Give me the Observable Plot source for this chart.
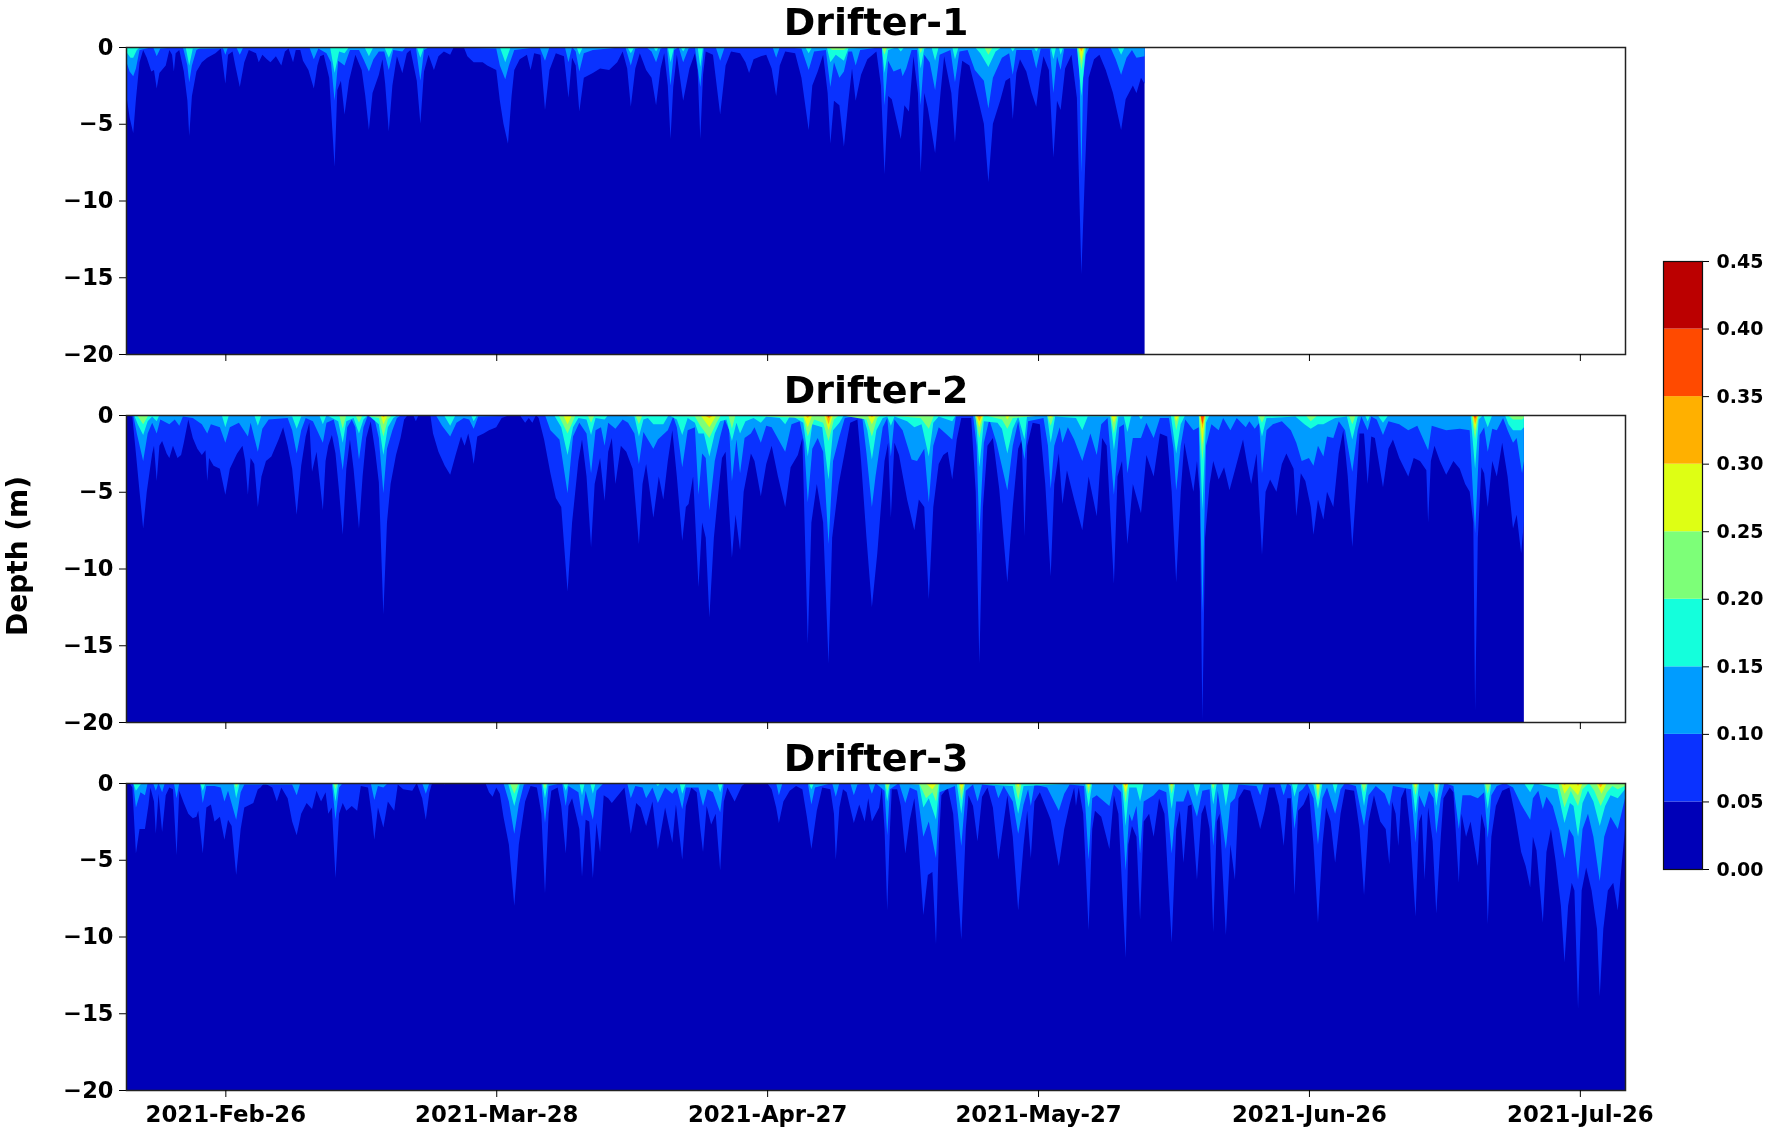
<!DOCTYPE html>
<html><head><meta charset="utf-8">
<script src="https://cdn.jsdelivr.net/npm/d3@7"></script>
<script src="https://cdn.jsdelivr.net/npm/@observablehq/plot@0.6"></script>
<style>
html,body{margin:0;padding:0;background:#fff;}
#chart{position:relative;width:1772px;height:1133px;overflow:hidden;}
#chart svg{position:absolute;left:0;background:transparent;overflow:visible;filter:blur(0.6px);}
</style></head><body><div id="chart"></div>
<script>
// Each series: [days since 2021-02-15, depth (m) of the contour]
const levelBounds = [0,0.05,0.10,0.15,0.20,0.25,0.30,0.35,0.40,0.45];
const levelColors = ["#0000b8","#0a32ff","#009cff","#14ffdc","#7dff78","#deff14","#ffb000","#ff4a00","#bb0000"];
const tickDates = ["2021-02-26","2021-03-28","2021-04-27","2021-05-27","2021-06-26","2021-07-26"];
const depthTicks = [0,-5,-10,-15,-20];
const barTicks = [0,0.05,0.10,0.15,0.20,0.25,0.30,0.35,0.40,0.45];
const titles = ["Drifter-1","Drifter-2","Drifter-3"];
const dataEnd = [112.8,154.8,166];

const p1L05=[[0,-3],[.4,-4.6],[.8,-5.6],[1.1,-3.4],[1.5,-1],[1.9,-.2],[2.3,-.7],[2.8,-1.6],[3.1,-1.5],[3.4,-2.7],[3.7,-1.7],[4.4,-1.2],[4.8,-.2],[5.1,-.5],[5.3,-1.6],[5.5,-.4],[5.9,-.2],[6.4,-1.6],[6.8,-3.5],[7,-5.8],[7.3,-3.2],[7.8,-1.6],[8.4,-1],[9,-.7],[9.9,-.4],[10.5,-.1],[11,-2.4],[11.3,-.5],[11.8,-.3],[12.1,-1.2],[12.6,-2.6],[13.1,-1],[13.6,-.2],[14.4,-.4],[14.7,-1],[15.1,-.5],[15.6,-.8],[16,-1],[16.6,-.6],[17.2,-1.2],[17.6,-.3],[18,-.1],[18.5,-1],[18.8,-.2],[19.3,-.2],[19.6,-.9],[20.2,-1.5],[20.8,-2.7],[21.2,-1.2],[21.5,-.6],[21.9,-.5],[22.5,-2],[23.1,-7.8],[23.4,-2.8],[23.8,-2.2],[24.2,-4.4],[24.7,-2.2],[25.4,-.5],[26.1,-1.5],[26.5,-3.2],[26.9,-5.4],[27.3,-3],[28,-1.8],[28.4,-.8],[28.7,-2.4],[29.1,-5.5],[29.5,-2.5],[30,-.6],[30.6,-1.7],[31.1,-.4],[31.5,-.2],[32.2,-2.2],[32.6,-5],[33,-1.6],[33.5,-.5],[34.1,-1.5],[34.6,-.6],[35.2,-.3],[35.9,-.5],[36.3,0],[37.4,0],[37.8,-.6],[38.5,-1],[39.5,-1],[40,-1.2],[41,-1.5],[41.4,-3.5],[41.8,-5],[42.3,-6.3],[42.7,-3.2],[43,-1.5],[43.6,-.8],[44.4,-.5],[44.8,-1.5],[45.2,-.4],[45.9,-.5],[46.4,-4.1],[46.9,-1.5],[47.6,-.4],[48.5,-.6],[49,-3.3],[49.4,-.7],[49.8,-1.2],[50.2,-4.2],[50.7,-2],[51.7,-1.7],[52.5,-1.4],[53.5,-1.5],[54.4,-1],[55,-.3],[55.5,-1.4],[55.9,-3.9],[56.4,-1.4],[56.9,-.4],[57.6,-1.5],[58.2,-2],[58.7,-3.8],[59.2,-1.4],[59.6,-.4],[60,-2.5],[60.3,-6],[60.6,-2.6],[61,-.5],[61.7,-3.5],[62.4,-1.4],[63,-.4],[63.3,-1.5],[63.6,-6],[63.9,-1.8],[64.2,-.3],[65,-.5],[65.8,-4.4],[66.4,-1.2],[67,-.3],[68,-.4],[68.6,-1],[69,-1.7],[69.5,-.8],[70.3,-.6],[70.9,-.5],[71.5,-1.4],[72,-3.2],[72.4,-1.2],[73,-.3],[74.1,-.4],[74.8,-2],[75.6,-5.4],[76,-2.5],[76.6,-1.6],[77.2,-.5],[77.7,-3],[78,-6.3],[78.4,-3.5],[79,-3.8],[79.5,-6.5],[80,-3.5],[80.4,-1.4],[80.8,-3.5],[81.4,-1.8],[82.1,-.8],[83.1,-.3],[83.6,-2.5],[84,-8.3],[84.4,-3.2],[84.8,-3.4],[85.8,-6],[86.2,-3.8],[86.7,-4.2],[87.2,-.6],[87.7,-3],[88,-8.2],[88.4,-3],[88.8,-4],[89.6,-6.9],[90.2,-3],[90.6,-.6],[91.4,-3],[91.8,-6.2],[92.2,-2.8],[92.6,-.9],[93.4,-1.2],[94.4,-3.5],[95,-5],[95.5,-8.8],[96,-5],[96.8,-3.5],[97.4,-2.2],[97.9,-2],[98.2,-4.7],[98.6,-1.7],[99,-.8],[99.7,-1.6],[100.3,-3],[100.8,-3.9],[101.2,-2],[101.6,-.6],[102.2,-1.5],[102.7,-7.2],[103.1,-3.5],[103.5,-4.1],[104,-1.4],[104.7,-.5],[105.3,-3.3],[105.8,-14.8],[106.2,-8],[106.6,-2],[107.2,-.8],[107.8,-.5],[108.5,-1.5],[109.3,-3],[110.2,-5.4],[110.7,-3.4],[111.5,-2.5],[111.9,-3],[112.4,-2],[112.8,-2.4]];
const p1L10=[[0,-.9],[.4,-1.6],[.8,-1.9],[1.1,-1.4],[1.5,-.2],[3,0],[3.4,-.6],[3.8,-.1],[6.3,0],[6.8,-1.2],[7,-2.3],[7.3,-1.2],[7.8,-.2],[8.4,0],[10.7,0],[11,-.5],[11.3,0],[12.2,0],[12.6,-.5],[13,0],[20.3,0],[20.8,-.8],[21.3,-.1],[22.2,-.4],[22.7,-1],[23.1,-3.5],[23.5,-.9],[24.2,-1.2],[24.8,-.2],[25.8,-.2],[26.3,-.8],[26.9,-1.6],[27.4,-.8],[28,-.3],[28.6,-.3],[29.1,-1.5],[29.6,-.2],[30.6,-.3],[31,0],[32.1,0],[32.6,-2.2],[33,-.2],[33.6,0],[41,-.1],[41.4,-1.2],[42,-2.1],[42.4,-1.2],[43,-.2],[45.8,0],[46.4,-.9],[46.9,0],[48.6,0],[49,-1],[49.4,0],[49.8,-.3],[50.2,-1.6],[50.7,-.4],[51.7,-.2],[55.3,0],[55.9,-1.2],[56.4,-.1],[57.6,0],[58.2,-.3],[58.7,-1],[59.2,-.1],[59.9,0],[60.3,-2.5],[60.7,-.2],[61.2,0],[61.7,-1],[62.3,-.1],[63,0],[63.6,-2.6],[64,0],[65.3,0],[65.8,-.9],[66.3,0],[71.6,0],[72,-.7],[72.4,0],[74.8,-.1],[75.6,-1.5],[76.2,-.3],[77.5,-.2],[78,-2.6],[78.4,-1],[79,-2],[79.5,-1.6],[80,-.3],[80.4,-.3],[80.8,-1.2],[81.3,-.2],[83.7,0],[84,-3.8],[84.4,-.9],[85,-1.6],[85.8,-1.4],[86,-1.9],[86.4,-1.4],[87,-.2],[87.6,-.2],[88,-3.8],[88.4,-.5],[89,-1],[89.6,-2.8],[90.1,-.5],[91.3,-.2],[91.8,-2.3],[92.3,-.3],[93.2,-.2],[94,-1.5],[95,-2.2],[95.5,-4],[96,-2],[97,-.7],[97.8,-.4],[98.2,-1.8],[98.6,-.2],[100.3,-.2],[100.8,-1.4],[101.3,-.1],[102.3,-.1],[102.7,-3],[103.1,-.6],[103.5,-1.5],[103.9,-.1],[105.4,-.1],[105.6,-1.8],[105.8,-8.2],[106,-2],[106.3,-.5],[106.7,0],[109,0],[109.6,-.8],[110.2,-1.8],[110.8,-.7],[111.4,-.2],[111.9,-.7],[112.8,-.6]];
const p1L15=[[0,-.3],[.5,-.7],[.8,-.7],[1.2,-.2],[1.6,0],[6.6,0],[7,-1.2],[7.4,-.1],[22.6,0],[23.1,-1.7],[23.6,-.3],[24.2,-.4],[24.7,0],[26.4,0],[26.9,-.6],[27.4,0],[28.6,0],[29.1,-.7],[29.6,0],[32.2,0],[32.6,-.7],[33,0],[41.4,0],[42,-1],[42.6,0],[49.9,0],[50.2,-.5],[50.6,0],[55.5,0],[55.9,-.4],[56.3,0],[58.4,0],[58.7,-.3],[59,0],[60,0],[60.3,-1],[60.7,0],[61.4,0],[61.7,-.3],[62,0],[63.3,0],[63.6,-1.3],[63.9,0],[75.2,0],[75.6,-.4],[76,0],[77.6,0],[78,-1],[78.6,-.5],[79.5,-.9],[80,-.1],[83.7,0],[84,-1.7],[84.4,-.2],[85.4,0],[85.8,-.3],[86.2,0],[87.7,0],[88,-1.4],[88.4,-.1],[89.2,0],[89.6,-.9],[90,0],[91.5,0],[91.8,-.8],[92.2,0],[94,0],[94.6,-.4],[95.5,-1.3],[96.3,-.3],[97,0],[97.9,0],[98.2,-.3],[98.5,0],[100.5,0],[100.8,-.3],[101.1,0],[102.4,0],[102.7,-.8],[103,0],[103.3,0],[103.5,-.5],[103.8,0],[105.3,0],[105.8,-3.2],[106.3,0],[109.8,0],[110.2,-.5],[110.6,0],[112.8,0]];
const p1L20=[[77.7,0],[78.2,-.2],[79.5,-.2],[80,0],[83.7,0],[84,-.5],[84.3,0],[87.8,0],[88,-.4],[88.3,0],[95,0],[95.5,-.5],[96,0],[105.4,0],[105.8,-1.5],[106.2,0]];
const p1L25=[[83.9,0],[84,-.15],[84.2,0],[105.5,0],[105.8,-.9],[106.1,0]];
const p1L30=[[105.6,0],[105.8,-.3],[106,0]];

const p2L05=[[0,0],[.7,-.1],[1.1,-2.5],[1.5,-5],[1.9,-7.4],[2.3,-5],[2.9,-2.5],[3.1,-2],[3.4,-4.3],[3.7,-2],[4,-1.7],[4.5,-2.5],[4.8,-2.8],[5.2,-2],[5.7,-2.8],[6.1,-2.6],[6.4,-1.8],[6.9,-.3],[7.4,-1.5],[7.9,-2.2],[8.4,-2.6],[8.8,-2.3],[9,-4.3],[9.2,-2.8],[9.7,-3.3],[10.4,-3.5],[11,-5.2],[11.5,-3.5],[12.3,-2.5],[12.9,-2],[13.2,-3],[13.5,-5.2],[13.8,-2.8],[14.2,-3.2],[14.6,-6],[15,-4],[15.5,-3],[16.1,-2.7],[16.9,-1.6],[17.4,-.8],[17.9,-2],[18.4,-3.5],[18.9,-6.5],[19.4,-3.3],[19.9,-1.4],[20.3,-.5],[20.6,-3.7],[21.1,-2.4],[21.8,-6.2],[22.1,-3],[22.4,-2],[22.8,-1.3],[23.2,-2.5],[23.6,-5],[24,-7.8],[24.4,-3.5],[24.8,-1.6],[25.2,-3.5],[25.8,-7.4],[26.2,-4],[26.6,-1.5],[27.1,-.4],[27.6,-2.4],[28,-4.4],[28.5,-13],[28.9,-7],[29.3,-4.5],[29.9,-2.6],[30.4,-1.5],[30.8,-.3],[31.2,0],[31.8,0],[32.1,-.4],[32.4,0],[33.7,0],[34,-1.2],[34.6,-2.4],[35.3,-3.3],[35.9,-3.9],[36.5,-2.6],[37.1,-1.4],[37.5,-2],[37.9,-1.2],[38.2,-2],[38.5,-3.2],[38.9,-1.4],[39.6,-1.2],[40.2,-1],[41,-.8],[41.6,-.2],[42.5,0],[43.6,0],[44.2,-.5],[44.6,-.2],[45,-.5],[45.4,0],[45.7,-.2],[46.3,-1.6],[47,-3.8],[47.6,-5.4],[48.2,-6],[48.9,-11.5],[49.4,-7],[50.1,-3],[50.5,-1.6],[51,-4],[51.5,-8.6],[51.9,-4.5],[52.5,-2.8],[53,-5.6],[53.4,-2.4],[53.8,-1.5],[54.2,-4.5],[54.8,-2],[55.4,-2.4],[56.1,-3.5],[56.8,-8.4],[57.2,-4.5],[57.6,-3.2],[58.4,-6.7],[59,-4],[59.5,-5.5],[60,-3],[60.5,-1],[61,-4],[61.6,-8.2],[62,-6],[62.3,-5.8],[62.8,-4],[63.4,-11.2],[63.8,-7],[64.2,-8],[64.6,-13.2],[65.1,-8],[65.6,-5],[66,-2.8],[66.4,-2.4],[67.1,-9.3],[67.5,-6.5],[68,-8.8],[68.4,-5],[69.2,-2.5],[69.6,-3],[70.3,-5.3],[70.9,-3.2],[71.5,-2],[72.2,-4],[73,-6],[73.6,-3.4],[74.4,-2.6],[74.9,-1.5],[75.5,-14.9],[75.9,-7],[76.5,-4.5],[77.2,-7],[77.8,-16.2],[78.2,-8],[78.9,-4.6],[79.6,-2.4],[80.2,-.5],[81,-.3],[81.4,-3],[82,-8],[82.6,-12.5],[83.2,-9],[84,-3],[84.4,-1.8],[84.7,-6.7],[85.1,-1.8],[85.6,-2.6],[86.5,-5.5],[87.3,-7.5],[87.8,-5.5],[88.4,-6],[88.9,-12],[89.4,-6],[90,-3.2],[90.5,-2.6],[91,-2.4],[91.5,-4.2],[92,-1.6],[92.5,-.2],[93.6,-.2],[94.1,-5],[94.5,-16.2],[94.9,-6],[95.4,-2],[96,-1.5],[96.7,-4.8],[97.6,-10.9],[98.2,-6],[98.8,-2.2],[99.2,-1.6],[99.5,-7.9],[99.8,-2],[100.4,-.5],[101.2,-.6],[101.8,-4.5],[102.4,-10.5],[102.8,-4.5],[103.3,-2.5],[103.7,-5.8],[104.2,-3.6],[105,-5.5],[105.9,-7.5],[106.6,-4],[107.5,-6.6],[108.1,-1.5],[108.6,-2],[109.4,-11],[109.8,-4],[110.3,-3],[110.9,-8.4],[111.5,-4.5],[112.4,-6.4],[113,-2.6],[113.8,-4],[114.5,-1.2],[115.3,-1.4],[115.8,-5],[116.3,-10.9],[116.8,-5],[117.2,-1.8],[118.2,-5],[118.6,-3],[118.9,-5],[119.2,-19.9],[119.5,-8],[120,-4.5],[120.4,-3],[121,-4.2],[121.6,-3.4],[122.2,-4.9],[122.8,-3.6],[123.7,-1.6],[124.1,-3],[124.6,-4.5],[125.2,-2.5],[125.8,-9.1],[126.2,-5],[126.7,-4.2],[127.4,-5],[128,-3.2],[128.5,-2.5],[129.3,-3.5],[129.6,-6.6],[130.1,-3.8],[130.6,-4.3],[131.2,-6],[131.5,-7.8],[132,-5.5],[132.6,-6.8],[133,-5],[133.7,-6],[134.3,-2.5],[134.8,-1],[135.3,-4],[135.8,-8.6],[136.3,-4.2],[136.6,-1.2],[137.1,-1.2],[137.5,-4.5],[137.9,-1.4],[138.3,-1.5],[139.2,-4.7],[139.8,-2.2],[140.3,-1.6],[141,-2.8],[142,-4],[142.6,-2.8],[143.3,-3],[144,-3.6],[144.2,-7],[144.5,-3],[144.9,-2],[145.5,-3],[146.2,-3.9],[147,-3],[147.7,-3.5],[148.3,-4.5],[148.8,-5],[149.2,-7],[149.4,-19.3],[149.7,-8],[150.1,-3.4],[150.4,-3.8],[150.8,-6],[151.3,-3],[151.8,-4],[152.4,-1.8],[153,-4],[153.6,-7.4],[154,-6.5],[154.5,-9],[154.8,-7]];
const p2L10=[[.8,0],[1.2,-1.2],[1.9,-3],[2.4,-1.2],[2.9,-.5],[3.4,-1.2],[3.8,-.3],[4.8,-.6],[5.4,-.3],[5.9,-.7],[6.3,-.1],[7.4,-.2],[8.4,-.6],[9,-1.2],[9.4,-.6],[10.4,-.8],[11,-1.8],[11.5,-.8],[12.5,-.5],[13.5,-1.4],[13.8,-.5],[14.6,-2.4],[15.1,-.9],[15.8,-.3],[17.9,-.2],[18.4,-1],[18.9,-2.5],[19.4,-1],[19.9,-.2],[20.7,-.4],[21.8,-1.8],[22.2,-.5],[23,-.3],[23.5,-1.5],[24,-3.6],[24.5,-.8],[25,-.3],[25.4,-.8],[25.8,-2.9],[26.3,-.8],[26.8,0],[27.5,-.2],[28,-1.5],[28.5,-5.1],[28.9,-2.2],[29.5,-1],[30,-.2],[30.5,0],[34.3,0],[35,-.7],[35.9,-1.4],[36.6,-.5],[37.4,-.2],[38,-.3],[38.5,-.9],[39,-.1],[46.4,0],[47,-1],[48,-1.6],[48.9,-5.1],[49.5,-1.4],[50.2,-.5],[51,-1.2],[51.5,-3.8],[52,-1],[52.6,-.8],[53,-2],[53.4,-.5],[54.2,-.9],[55,-.3],[55.6,-.5],[56.3,-1.2],[56.8,-3.2],[57.3,-1.1],[58.4,-2.2],[58.9,-1.6],[60,-1],[60.6,-.1],[61,-.8],[61.6,-3.4],[62.2,-1],[63,-.8],[63.4,-5.2],[63.8,-2.5],[64.2,-2.8],[64.6,-6.2],[65.2,-3],[65.8,-1.4],[66.3,-.3],[66.8,-1],[67.1,-4.3],[67.6,-1.6],[68,-3.8],[68.5,-1.5],[69.2,-1.2],[69.6,-.8],[70.3,-1.8],[70.9,-.7],[71.5,-.8],[73,-2.4],[73.7,-.6],[74.6,-.4],[75.1,-1.8],[75.5,-5.7],[76,-2.2],[76.6,-1.5],[77.2,-2.4],[77.8,-8.4],[78.3,-3],[79,-1.4],[79.6,-.2],[81.5,0],[82,-2.5],[82.6,-6],[83,-4],[83.8,-.8],[84.3,-.2],[84.7,-2.7],[85.1,-.3],[86,-1],[87,-2.9],[87.6,-3],[88.4,-2.2],[88.9,-5.7],[89.4,-2],[90,-.8],[91.5,-1.6],[91.9,-.1],[93.8,0],[94.2,-2],[94.5,-7.8],[95,-1.8],[95.6,-.3],[96.4,-1.8],[97.6,-4.9],[98.2,-2],[98.8,-.4],[99.5,-2.9],[99.9,-.4],[101.6,-.2],[102.1,-2],[102.4,-4.8],[102.8,-2],[103.4,-.8],[103.7,-1.8],[104.3,-.8],[105,-1.6],[105.9,-3],[106.8,-1.2],[107.5,-2.6],[108,-.6],[108.7,-.2],[109.4,-5.2],[110,-.8],[110.5,-.6],[110.9,-3.8],[111.5,-1.5],[112.4,-1.5],[113,-.5],[113.8,-1.5],[114.5,-.2],[115.5,-.2],[116,-2.2],[116.3,-4.9],[116.8,-2],[117.3,-.3],[118.2,-1],[118.8,-.8],[119.2,-12.9],[119.6,-2],[120.2,-.6],[121,-1],[121.5,-.2],[122.3,-1],[123,-.2],[124,-.8],[124.4,-.4],[125,-.9],[125.5,-.5],[125.8,-3.8],[126.3,-1],[127,-.6],[128,-.4],[129,-1],[129.6,-1.8],[130.2,-3],[131,-2.8],[131.5,-3.3],[132,-2],[132.6,-2.7],[133,-1.4],[133.7,-1.5],[134.3,-.4],[135,-1],[135.8,-3.7],[136.4,-1],[136.8,-.1],[137.5,-1],[137.9,-.1],[138.5,-.3],[139.2,-1.3],[139.8,-.4],[141,-.6],[142,-1],[143,-.7],[144.2,-2.3],[144.6,-.7],[146.2,-1],[147.7,-.9],[148.8,-1],[149.4,-7.7],[149.9,-1.3],[150.4,-.8],[150.8,-2.4],[151.3,-.9],[151.8,-1],[152.5,-.2],[153,-1],[153.6,-1.8],[154,-1.5],[154.6,-3.8],[154.8,-3]];
const p2L15=[[.9,0],[1.3,-.6],[1.9,-1.3],[2.4,-.4],[2.9,-.1],[3.4,-.4],[3.7,0],[10.6,0],[11,-.8],[11.4,0],[14.2,0],[14.6,-.7],[15,0],[18.4,-.1],[18.9,-.9],[19.4,-.1],[21.4,0],[21.8,-.6],[22.2,0],[23.5,-.4],[24,-1.8],[24.4,-.4],[25.2,-.2],[25.8,-1.2],[26.3,-.3],[26.8,0],[28,-.6],[28.5,-2.6],[29,-.8],[29.6,-.2],[30.1,0],[35.2,0],[35.9,-.7],[36.5,0],[38.2,0],[38.5,-.4],[38.9,0],[47.4,0],[48.2,-.8],[48.9,-2.6],[49.5,-.8],[50.1,-.2],[51,-.3],[51.5,-1.3],[52,-.2],[53,-.3],[53.4,0],[56.3,-.1],[56.8,-1.4],[57.3,-.3],[57.8,-.2],[58.4,-.6],[59.5,-.6],[60.1,0],[61,-.3],[61.6,-1.3],[62.2,-.2],[63,-.5],[63.4,-1.2],[64,-1.2],[64.6,-2.7],[65.2,-1.2],[65.8,-.4],[66.5,-.3],[67.1,-1.7],[67.6,-.5],[68,-1.2],[68.6,-.4],[69.5,-.2],[70.3,-.5],[70.9,-.1],[72.4,-.2],[73,-.6],[73.6,0],[75,-.5],[75.5,-2.7],[76,-.6],[77.1,-.8],[77.8,-4.2],[78.3,-1],[79,-.5],[79.5,0],[81.6,0],[82.1,-1],[82.6,-2.9],[83.1,-1],[83.8,-.2],[84.3,-.1],[84.7,-.7],[85.1,-.1],[86.5,-.4],[87.3,-.8],[88.1,-.6],[88.9,-2.7],[89.4,-.5],[90,-.1],[91.5,-.4],[91.9,0],[94.1,0],[94.5,-3.4],[95,-.4],[96.5,-.5],[97,-.9],[97.6,-2.5],[98.2,-.9],[98.8,-.1],[99.5,-1.6],[99.8,0],[102,0],[102.4,-1.8],[102.9,-.1],[105.2,-.2],[105.9,-1],[106.5,-.1],[109,-.1],[109.4,-2.3],[109.9,-.1],[110.5,-.1],[110.9,-1.1],[111.3,-.1],[112.1,0],[112.4,-.3],[112.7,0],[115.7,0],[116.3,-2.5],[116.8,-.6],[117.3,0],[118.8,0],[119.2,-6.2],[119.6,-.5],[120,0],[125.3,0],[125.8,-1.4],[126.3,-.2],[129.5,-.1],[130.5,-.6],[131.2,-.9],[132,-.6],[132.6,-.6],[133.2,-.4],[133.9,-.2],[135.2,-.1],[135.8,-1.6],[136.4,-.1],[137.2,0],[137.5,-.4],[137.8,0],[138.6,0],[139.2,-.5],[139.8,0],[148.9,0],[149.4,-3.5],[149.8,-.3],[150.3,0],[150.8,-.8],[151.3,0],[152.7,0],[153.1,-.6],[153.6,-1],[154.5,-1],[154.8,-.8]];
const p2L20=[[1.2,0],[1.9,-.6],[2.5,0],[23.6,0],[24,-.9],[24.4,0],[25.4,0],[25.8,-.5],[26.2,0],[28,-.2],[28.5,-1.4],[29,-.3],[29.5,0],[47.9,0],[48.9,-1.2],[49.8,0],[51.1,0],[51.5,-.5],[51.9,0],[56.4,0],[56.8,-.6],[57.2,0],[63,-.1],[63.6,-.7],[64.6,-1.5],[65.4,-.5],[65.9,0],[66.7,0],[67.1,-.9],[67.5,0],[75,-.2],[75.5,-1.4],[76.2,-.3],[77.2,-.5],[77.8,-1.7],[78.4,-.3],[79,0],[82,-.3],[82.6,-1.4],[83.2,-.2],[83.6,0],[88,-.2],[88.9,-.9],[89.5,0],[94,0],[94.5,-1.5],[95,0],[97,-.3],[97.6,-.9],[98.2,-.2],[102,0],[102.4,-.7],[102.8,0],[109,0],[109.4,-1.2],[109.8,0],[116,0],[116.3,-1],[116.7,0],[118.8,0],[119.2,-3],[119.6,0],[125.4,0],[125.8,-.5],[126.2,0],[130.6,0],[131.2,-.4],[132,0],[135.4,0],[135.8,-.6],[136.2,0],[149,0],[149.4,-1.6],[149.8,0],[153,0],[153.6,-.3],[154.6,-.3],[154.8,-.2]];
const p2L25=[[28.2,0],[28.5,-.6],[29,0],[48.4,0],[48.9,-.6],[49.4,0],[63.6,0],[64.6,-.8],[65.4,0],[75,0],[75.5,-.8],[76,0],[77.3,0],[77.8,-1],[78.3,0],[82.1,0],[82.6,-.6],[83.1,0],[94.1,0],[94.5,-.8],[94.9,0],[97.3,0],[97.6,-.3],[97.9,0],[102.1,0],[102.4,-.2],[102.7,0],[109.1,0],[109.4,-.5],[109.7,0],[116.1,0],[116.3,-.4],[116.6,0],[118.9,0],[119.2,-1.9],[119.5,0],[149.1,0],[149.4,-1],[149.7,0]];
const p2L30=[[28.3,0],[28.5,-.15],[28.8,0],[64,0],[64.6,-.2],[65.1,0],[75.2,0],[75.5,-.2],[75.8,0],[77.5,0],[77.8,-.6],[78.1,0],[82.3,0],[82.6,-.15],[82.9,0],[94.2,0],[94.5,-.4],[94.8,0],[119,0],[119.2,-.9],[119.5,0],[149.2,0],[149.4,-.6],[149.7,0]];
const p2L35=[[77.6,0],[77.8,-.2],[78,0],[94.3,0],[94.5,-.1],[94.7,0],[119,0],[119.2,-.6],[119.4,0],[149.2,0],[149.4,-.25],[149.6,0]];

const p3L05=[[.4,0],[.7,-.3],[1.1,-4.6],[1.5,-3],[2.1,-3],[2.5,-1.4],[2.7,-.3],[3.1,-1.2],[3.3,-3.3],[3.6,-.7],[4,-3.2],[4.4,-.8],[4.8,-.3],[5.2,-.4],[5.6,-4.7],[5.9,-.5],[6.4,-1.3],[6.9,-2],[7.4,-2.3],[7.8,-2.2],[8,-1.8],[8.5,-4.6],[8.9,-1.6],[9.4,-1.4],[9.8,-2.5],[10.4,-2.2],[10.9,-3.7],[11.3,-2.4],[11.7,-2.8],[12.2,-6],[12.7,-3],[13.1,-1.6],[14.1,-1.3],[14.6,-.4],[14.9,-.3],[15.3,0],[16.2,-.3],[16.7,-1.2],[17.2,-.3],[17.9,-1],[18.4,-2.5],[18.9,-3.4],[19.4,-2],[20,-1.3],[20.6,-1.7],[21.1,-.5],[21.6,-1.2],[22.1,-.6],[22.4,-2],[22.8,-1.6],[23.2,-6.2],[23.6,-2],[24,-1.3],[24.4,-1.8],[25,-1.5],[25.6,-1.8],[26,-.2],[26.8,-.3],[27.2,-2],[27.5,-3.7],[27.9,-1.6],[28.5,-2.9],[29,-1.2],[29.7,-1.8],[30.1,-.1],[30.7,-.4],[31.7,-.5],[32.2,0],[32.8,-1],[33.2,-2.4],[33.6,-.6],[33.9,0],[35.2,0],[35.3,-.1],[35.4,0],[39.8,0],[40.2,-.6],[40.6,-.9],[41,-.3],[41.4,-.7],[41.8,-2.2],[42.4,-4],[43,-8],[43.5,-4],[44.2,-1.2],[44.8,-.2],[45.5,-.3],[46,-2],[46.4,-7.2],[46.8,-2],[47.1,-.5],[47.8,-.3],[48.2,-1.5],[48.7,-4.6],[49,-1.5],[49.4,-1],[50.2,-3],[50.5,-6.1],[50.9,-2.4],[51.3,-2.5],[51.7,-6.2],[52.1,-2.6],[52.5,-4.5],[52.9,-.8],[53.4,-1],[53.8,-1.3],[54.5,-.8],[55.2,-.3],[55.6,-2],[55.9,-3.3],[56.5,-1.3],[57,-1.6],[57.6,-2.8],[58.3,-1.2],[58.9,-4.3],[59.7,-1.6],[60.5,-3.9],[60.9,-1.4],[61.6,-5],[62,-1.5],[62.6,-.3],[63.2,-.6],[63.6,-3],[63.9,-4.5],[64.3,-1.5],[64.8,-2.7],[65.3,-2],[65.8,-5.7],[66.2,-1.2],[66.6,-.3],[67.4,-1.2],[68.2,-.2],[68.6,0],[71,0],[71.5,-.4],[72,-1.6],[72.3,-2.6],[72.8,-1.2],[73.5,-.5],[74.2,-.2],[74.9,-.4],[75.4,-2.2],[75.9,-4.3],[76.5,-1.8],[77.1,-.3],[78,-.4],[78.4,-2],[78.6,-5],[79,-1.6],[79.4,-.4],[79.8,-.6],[80.6,-2.6],[81.2,-1.4],[81.8,-2.5],[82.2,-1],[82.6,-2.5],[83.4,-1.6],[83.7,-.3],[84,-3],[84.3,-8.3],[84.6,-3],[84.8,-.4],[85.4,-.4],[85.8,-1.5],[86.3,-4.6],[86.8,-2.4],[87.3,-1],[87.7,-3.5],[88.3,-8.6],[88.8,-6],[89.3,-5.8],[89.7,-10.5],[90,-4],[90.3,-.8],[91,-.3],[91.6,-2],[92.5,-10.2],[93,-3],[93.3,-.8],[93.8,-1.5],[94.3,-3.8],[94.8,-.9],[95.4,-.3],[96,-1.6],[96.6,-5],[97.2,-2.5],[97.6,-.8],[98.2,-3.5],[98.8,-8.3],[99.4,-4],[99.8,-1.8],[100.2,-4.9],[100.6,-1.2],[101.2,-.6],[102.4,-2.4],[103.3,-5.4],[103.9,-3],[104.5,-1.4],[105,-.3],[105.2,-1.5],[105.5,-.3],[106,-2],[106.6,-9.6],[107,-3],[107.3,-1.8],[108,-2.2],[108.9,-4.3],[109.4,-.8],[109.9,-2],[110.7,-11.4],[111,-4],[111.4,-2.8],[111.9,-3.5],[112.3,-8.9],[112.7,-2.5],[113.3,-2],[113.8,-3.5],[114.4,-1],[115,-2],[115.8,-10.4],[116.3,-3],[116.7,-1.8],[117.1,-5.2],[117.6,-1.5],[118,-1.4],[118.6,-6.3],[119.1,-2],[119.5,-1.4],[120,-3],[120.4,-9.7],[120.8,-2.5],[121.1,-2],[121.8,-9.9],[122.3,-4],[122.8,-6.3],[123.2,-1],[123.8,-.4],[124.5,-.5],[125.2,-2],[125.6,-3],[126.1,-1.8],[126.6,-.3],[127.2,-.3],[127.7,-1.5],[128.2,-4.1],[128.6,-1],[129,-1],[129.4,-7.3],[129.8,-1.8],[130.4,-1.4],[131,-.6],[131.5,-4],[132,-9.1],[132.5,-4],[132.9,-1.6],[133.4,-2.5],[133.9,-5.2],[134.5,-2],[135,-.4],[136,-.5],[136.6,-3],[137.1,-7.3],[137.6,-2.5],[138.2,-.8],[138.9,-2.5],[139.5,-3],[139.9,-5.3],[140.2,-1.2],[140.6,-2],[140.9,-4.1],[141.2,-1],[141.7,-.3],[142.2,-3],[142.8,-8.7],[143.2,-2.5],[143.5,-2],[143.8,-6.3],[144.2,-1.6],[144.7,-3.8],[145.1,-8.5],[145.6,-3.5],[145.9,-1],[146.6,-.3],[147,-.6],[147.6,-6.5],[147.9,-2],[148.4,-3.5],[148.9,-2.5],[149.7,-5.4],[150.1,-2],[150.5,-3],[150.8,-9.2],[151.2,-3.5],[151.7,-1.5],[152.4,-.5],[153.2,-.3],[153.8,-2],[154.5,-4.5],[155,-5.4],[155.5,-6.8],[155.8,-3.5],[156.2,-4.4],[156.9,-9.1],[157.3,-4.5],[157.8,-3],[158.3,-5],[158.9,-8],[159.3,-11.7],[159.7,-8],[160.1,-6.5],[160.4,-7],[160.8,-14.7],[161.2,-7],[161.7,-5.5],[162.3,-7],[162.9,-9.5],[163.2,-13.9],[163.6,-9.5],[164.1,-7],[164.7,-6.5],[165.2,-8.3],[165.6,-5.5],[166,-3]];
const p3L10=[[.8,0],[1.1,-1.6],[1.6,-.6],[2.1,-.8],[2.4,0],[3,0],[3.3,-.5],[3.6,0],[4,-.6],[4.3,0],[5.3,0],[5.6,-1],[5.9,0],[8.2,0],[8.5,-1.3],[8.9,-.2],[9.8,-.2],[10.5,-.3],[10.9,-1.2],[11.3,-.5],[12.2,-2.4],[12.7,-.6],[13.1,-.1],[18.4,-.1],[18.9,-.8],[19.3,0],[22.8,0],[23.2,-2.4],[23.6,-.3],[24,0],[27.1,0],[27.5,-1.1],[27.9,-.2],[28.5,-.3],[29,0],[32.8,0],[33.2,-.7],[33.6,0],[41.8,0],[42.4,-1.2],[43,-3.3],[43.5,-1.4],[44.1,0],[46,0],[46.4,-2.6],[46.8,-.2],[48.3,0],[48.7,-1.5],[49,-.2],[50.1,-.6],[50.5,-2.2],[50.9,-.5],[51.7,-2.4],[52.1,-.5],[52.9,0],[55.5,0],[55.9,-1],[56.4,-.2],[57.2,-.3],[57.6,-1],[58.3,-.3],[58.9,-1.3],[59.7,-.3],[60.5,-.7],[61,-.3],[61.6,-1.7],[62,-.3],[63.4,-.3],[63.9,-1.5],[64.4,-.4],[65,-.6],[65.8,-1.9],[66.2,0],[72,0],[72.3,-.8],[72.7,0],[75.5,0],[75.9,-1.4],[76.3,-.3],[78.2,0],[78.6,-.9],[79,0],[80.2,0],[80.6,-.8],[81,-.1],[82.2,0],[82.6,-.7],[83,0],[84,-.5],[84.3,-3.4],[84.6,-.4],[85.6,0],[86.3,-1.3],[86.8,-.3],[87.6,-.5],[88.3,-3.5],[88.9,-2.5],[89.7,-4.9],[90.1,-.6],[91.8,-.2],[92.5,-4.1],[93,-.5],[93.8,-.1],[94.3,-1.2],[94.8,-.1],[96.2,-.2],[96.6,-1],[97.2,-.2],[98.2,-1.2],[98.8,-3.3],[99.4,-1.4],[99.9,-.4],[100.2,-1.5],[100.6,-.1],[102,-.3],[103.3,-1.8],[103.9,-.7],[104.5,-.1],[106.1,-.2],[106.6,-5],[107,-1],[107.5,-.8],[108.9,-1.5],[109.4,-.1],[110.2,-.6],[110.7,-5.7],[111.1,-2],[111.4,-2.5],[111.9,-1.5],[112.3,-4.6],[112.7,-1.2],[113.8,-.8],[114.4,-.4],[115.2,-.6],[115.8,-4.6],[116.3,-1.2],[117.1,-1.2],[117.6,-.4],[118.6,-2.2],[119.2,-.5],[120,-.4],[120.4,-4.1],[120.9,-.5],[121.8,-4.3],[122.3,-1.3],[122.8,-1],[123.2,-.1],[125.2,-.2],[125.6,-.8],[126,0],[127.8,0],[128.2,-.8],[128.6,0],[129,-.2],[129.4,-3],[129.9,-.6],[130.3,-.4],[130.8,0],[131.5,-1],[132,-4],[132.5,-1],[133,-.3],[133.9,-2],[134.5,-.4],[135,0],[136.2,-.2],[137.1,-2.8],[137.6,-.8],[138.4,-.2],[139.4,-.7],[139.9,-1.5],[140.3,-.2],[142.3,-.4],[142.8,-3.9],[143.2,-.8],[143.8,-1.6],[144.3,-.5],[144.8,-1],[145.1,-3.3],[145.6,-1],[146,0],[147,-.2],[147.6,-3],[148,-.8],[148.9,-.8],[149.7,-1],[150.4,-.6],[150.8,-3.6],[151.2,-.8],[151.8,-.2],[152.7,0],[153.6,-.3],[154.5,-1.4],[155.5,-2.4],[155.8,-1],[156.4,-.5],[156.9,-1.7],[157.3,-.9],[158,-1.5],[158.7,-3],[159.3,-4.9],[159.8,-3],[160.3,-3.5],[160.8,-6.3],[161.3,-3],[161.9,-2],[162.5,-3.5],[163.2,-6.4],[163.7,-3.5],[164.4,-2.2],[165.2,-3],[166,-1]];
const p3L15=[[.8,0],[1.1,-.5],[1.6,-.1],[2,0],[8.2,0],[8.5,-.5],[8.8,0],[11.9,0],[12.2,-1],[12.6,0],[22.9,0],[23.2,-1.2],[23.5,0],[42.3,0],[43,-1.5],[43.6,-.1],[46.1,0],[46.4,-1],[46.7,0],[48.4,0],[48.7,-.5],[49,0],[50.2,0],[50.5,-.8],[50.8,0],[51.4,0],[51.7,-.7],[52,0],[58.6,0],[58.9,-.2],[59.2,0],[61.3,0],[61.6,-.7],[62,0],[65.5,0],[65.8,-.6],[66.1,0],[75.6,0],[75.9,-.4],[76.2,0],[84,0],[84.3,-1.2],[84.6,0],[87.8,0],[88.3,-1.6],[88.9,-1],[89.7,-2.4],[90.1,0],[92,0],[92.5,-2],[92.9,0],[98.2,-.2],[98.8,-2],[99.4,-.2],[106.2,0],[106.6,-1.6],[107,0],[110.3,0],[110.7,-2.8],[111.1,-.3],[111.9,-.3],[112.3,-1.2],[112.7,0],[115.4,0],[115.8,-1.7],[116.2,0],[118.2,0],[118.6,-.9],[119,0],[120.1,0],[120.4,-1.4],[120.8,0],[121.4,0],[121.8,-1.5],[122.2,0],[129.1,0],[129.4,-.9],[129.8,0],[131.5,-.1],[132,-1.7],[132.5,0],[133.6,0],[133.9,-.7],[134.2,0],[136.7,0],[137.1,-1.5],[137.5,0],[142.4,0],[142.8,-2],[143.2,0],[144.8,0],[145.1,-1.5],[145.5,0],[150.4,0],[150.8,-1.7],[151.2,0],[154.8,0],[155.5,-.6],[156,0],[158.5,-.4],[159.3,-2.6],[159.9,-1.3],[160.3,-1.5],[160.8,-3.5],[161.3,-1.3],[161.9,-.5],[162.5,-1.2],[163.2,-2.8],[163.8,-1.5],[164.4,-.8],[165.2,-1],[166,-.4]];
const p3L20=[[12,0],[12.2,-.3],[12.5,0],[23,0],[23.2,-.4],[23.4,0],[42.5,0],[43,-.7],[43.5,0],[46.2,0],[46.4,-.4],[46.6,0],[84.1,0],[84.3,-.5],[84.6,0],[87.9,-.1],[88.6,-1],[89.3,-.6],[89.7,-1.2],[90,0],[92.2,0],[92.5,-1.1],[92.9,0],[98.4,0],[98.8,-1.1],[99.2,0],[106.3,0],[106.6,-.7],[106.9,0],[110.4,0],[110.7,-1.3],[111,0],[115.5,0],[115.8,-.7],[116.1,0],[120.2,0],[120.4,-.4],[120.6,0],[131.7,0],[132,-1.1],[132.3,0],[136.8,0],[137.1,-.6],[137.4,0],[142.5,0],[142.8,-.8],[143.1,0],[144.9,0],[145.1,-.7],[145.4,0],[150.5,0],[150.8,-.7],[151.1,0],[158.6,0],[159.3,-1.6],[160,-.5],[160.8,-1.5],[161.3,-.4],[162,0],[162.6,-.5],[163.3,-1.5],[164,-.6],[164.6,-.2],[165.2,-.4],[166,-.2]];
const p3L25=[[88.5,0],[89.3,-.4],[89.8,0],[92.3,0],[92.5,-.5],[92.8,0],[98.6,0],[98.8,-.3],[99,0],[106.4,0],[106.6,-.3],[106.8,0],[110.4,0],[110.7,-.6],[111,0],[115.6,0],[115.8,-.2],[116,0],[131.8,0],[132,-.5],[132.2,0],[142.6,0],[142.8,-.3],[143,0],[144.9,0],[145.1,-.2],[145.3,0],[158.9,0],[159.3,-.7],[159.9,-.2],[160.8,-.8],[161.3,0],[162.8,0],[163.4,-.7],[164,0]];
const p3L30=[[92.3,0],[92.5,-.1],[92.7,0],[110.5,0],[110.7,-.2],[110.9,0],[159.1,0],[159.3,-.15],[159.6,0],[160.6,0],[160.8,-.2],[161,0],[163,0],[163.3,-.3],[163.6,0]];

const panelLevels = [
  [p1L05,p1L10,p1L15,p1L20,p1L25,p1L30],
  [p2L05,p2L10,p2L15,p2L20,p2L25,p2L30,p2L35],
  [p3L05,p3L10,p3L15,p3L20,p3L25,p3L30]
];

const t0 = Date.UTC(2021,1,15);
const toDate = d => new Date(t0 + d*864e5);
const font = "'DejaVu Sans', sans-serif";
const layout = [
  {top:0,   height:380, marginTop:47, marginBottom:26},
  {top:380, height:368, marginTop:35, marginBottom:26},
  {top:748, height:385, marginTop:35, marginBottom:43}
];
const chart = document.getElementById("chart");

panelLevels.forEach((levels,i)=>{
  const L = layout[i], last = i===2;
  const marks = [
    Plot.areaY([0,dataEnd[i]],{x:toDate,y1:-20,y2:0,fill:levelColors[0]}),
    ...levels.map((s,k)=>Plot.areaY(s,{x:d=>toDate(d[0]),y1:0,y2:d=>d[1],fill:levelColors[k+1],curve:"linear"})),
    Plot.axisY({ticks:depthTicks,tickSize:7,tickPadding:6,fontSize:22.5,fontWeight:"bold",label:null}),
    Plot.frame({stroke:"#222",strokeWidth:1.5}),
    Plot.axisX(tickDates.map(s=>new Date(s)),{tickSize:7,tickPadding:8,fontSize:22.8,fontWeight:"bold",label:null,
      tickFormat: last ? d3.utcFormat("%Y-%b-%d") : ()=>""}),
    Plot.text([titles[i]],{frameAnchor:"top",dy:-39,fontSize:38,fontWeight:"bold",fill:"#000",lineAnchor:"top"})
  ];
  if(i===1) marks.push(Plot.text(["Depth (m)"],{y:[-9.15],frameAnchor:"left",dx:-108,rotate:-90,textAnchor:"middle",fontSize:28,fontWeight:"bold",fill:"#000"}));
  const svg = Plot.plot({
    width:1772,height:L.height,marginLeft:126,marginRight:147,marginTop:L.marginTop,marginBottom:L.marginBottom,
    style:{fontFamily:font,color:"#000",background:"transparent",overflow:"visible"},
    x:{type:"utc",domain:[toDate(0),toDate(166)],axis:null},
    y:{domain:[-20,0],axis:null},
    marks
  });
  svg.style.top=L.top+"px";
  chart.appendChild(svg);
});

// colour bar
const barData = levelColors.map((c,k)=>({lo:levelBounds[k],hi:levelBounds[k+1],c}));
const bar = Plot.plot({
  width:160,height:658,marginLeft:10,marginRight:111,marginTop:25,marginBottom:25,
  style:{fontFamily:font,color:"#000",background:"transparent",overflow:"visible"},
  x:{domain:[0,1],axis:null},
  y:{domain:[0,0.45],axis:null},
  marks:[
    Plot.rect(barData,{x1:0,x2:1,y1:"lo",y2:"hi",fill:"c"}),
    Plot.axisY(barTicks,{anchor:"right",tickSize:6,tickPadding:8,fontSize:19,fontWeight:"bold",tickFormat:d3.format(".2f"),label:null}),
    Plot.frame({stroke:"#111",strokeWidth:1.2})
  ]
});
bar.style.left="1653px"; bar.style.top="236px";
chart.appendChild(bar);
</script></body></html>
